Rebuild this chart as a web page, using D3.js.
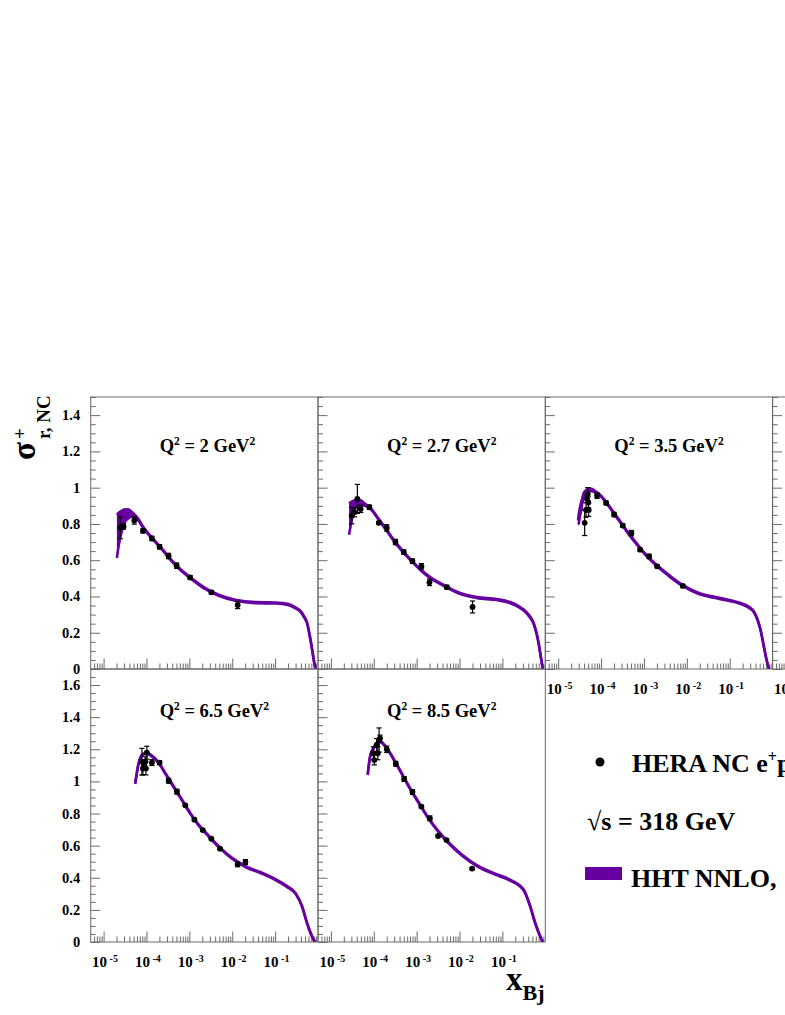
<!DOCTYPE html>
<html>
<head>
<meta charset="utf-8">
<script src="https://cdn.jsdelivr.net/npm/d3@7/dist/d3.min.js"></script>
<style>
  body { margin: 0; background: #fff; }
  svg { display: block; }
  text { font-family: "Liberation Serif", "Times New Roman", serif; font-weight: bold; fill: #000; }
</style>
</head>
<body>
<svg id="chart"></svg>
<script>
var width = 785;
var height = 1015;
var bandColor = "#66009f";
var frameColor = "#6a6a6a";

// panel titles
var q2Labels = ["2", "2.7", "3.5", "6.5", "8.5"];

// HERA NC e+p points : [x, sigma_r, error]
var heraQ2_2 = [
  [2.44e-5, 0.779, 0.060], [2.92e-5, 0.786, 0.015], [5.19e-5, 0.819, 0.020],
  [8.28e-5, 0.762, 0.012], [1.34e-4, 0.720, 0.012], [2.02e-4, 0.674, 0.012],
  [3.28e-4, 0.623, 0.015], [5.05e-4, 0.570, 0.015], [1.04e-3, 0.505, 0.010],
  [3.26e-3, 0.423, 0.010], [1.34e-2, 0.353, 0.020]
];
var heraQ2_27 = [
  [3.05e-5, 0.846, 0.045], [3.52e-5, 0.864, 0.025], [4.14e-5, 0.938, 0.080],
  [4.95e-5, 0.883, 0.020], [7.89e-5, 0.892, 0.012], [1.31e-4, 0.806, 0.008],
  [2.01e-4, 0.778, 0.018], [3.20e-4, 0.700, 0.015], [5.01e-4, 0.645, 0.012],
  [7.98e-4, 0.595, 0.012], [1.29e-3, 0.566, 0.015], [1.99e-3, 0.478, 0.018],
  [5.06e-3, 0.451, 0.010], [2.01e-2, 0.342, 0.033]
];
var heraQ2_35 = [
  [4.14e-5, 0.806, 0.070], [4.46e-5, 0.877, 0.040], [4.70e-5, 0.938, 0.020],
  [4.88e-5, 0.965, 0.035], [5.01e-5, 0.919, 0.030], [5.14e-5, 0.877, 0.035],
  [8.05e-5, 0.956, 0.015], [1.31e-4, 0.916, 0.010], [2.01e-4, 0.852, 0.012],
  [3.20e-4, 0.791, 0.010], [5.09e-4, 0.749, 0.015], [8.13e-4, 0.658, 0.008],
  [1.32e-3, 0.621, 0.012], [2.03e-3, 0.566, 0.008], [8.05e-3, 0.458, 0.006]
];
var heraQ2_65 = [
  [7.83e-5, 1.123, 0.083], [8.26e-5, 1.081, 0.040], [8.87e-5, 1.102, 0.030],
  [9.38e-5, 1.123, 0.030], [9.70e-5, 1.081, 0.040], [1.02e-4, 1.179, 0.040],
  [1.34e-4, 1.117, 0.018], [2.02e-4, 1.117, 0.012], [3.29e-4, 1.004, 0.015],
  [5.14e-4, 0.936, 0.015], [8.05e-4, 0.851, 0.008], [1.31e-3, 0.762, 0.008],
  [2.05e-3, 0.697, 0.006], [3.26e-3, 0.643, 0.006], [5.20e-3, 0.581, 0.006],
  [1.34e-2, 0.484, 0.015], [2.03e-2, 0.498, 0.015]
];
var heraQ2_85 = [
  [9.79e-5, 1.175, 0.040], [1.03e-4, 1.133, 0.030], [1.17e-4, 1.227, 0.040],
  [1.24e-4, 1.175, 0.040], [1.33e-4, 1.258, 0.075], [1.40e-4, 1.268, 0.020],
  [2.01e-4, 1.200, 0.020], [3.26e-4, 1.110, 0.015], [5.11e-4, 1.015, 0.015],
  [7.98e-4, 0.934, 0.015], [1.29e-3, 0.843, 0.008], [2.03e-3, 0.770, 0.015],
  [3.17e-3, 0.660, 0.006], [4.97e-3, 0.635, 0.006], [1.97e-2, 0.457, 0.006]
];

// HHT NNLO band : [x, low, high]
var hhtQ2_2 = [
  [2.04e-5, 0.612, 0.850], [2.23e-5, 0.675, 0.860], [2.67e-5, 0.762, 0.873],
  [3.20e-5, 0.814, 0.881], [3.82e-5, 0.832, 0.879], [4.57e-5, 0.840, 0.866],
  [5.47e-5, 0.836, 0.848], [6.55e-5, 0.818, 0.826], [7.83e-5, 0.788, 0.794],
  [1.34e-4, 0.720, 0.726], [2.30e-4, 0.658, 0.664], [3.94e-4, 0.592, 0.598],
  [6.73e-4, 0.537, 0.543], [1.15e-3, 0.493, 0.499], [2.36e-3, 0.440, 0.446],
  [4.83e-3, 0.404, 0.410], [1.18e-2, 0.376, 0.382], [3.48e-2, 0.363, 0.369],
  [0.102, 0.361, 0.367], [0.208, 0.352, 0.358], [0.299, 0.334, 0.340],
  [0.391, 0.315, 0.321], [0.468, 0.287, 0.293], [0.560, 0.248, 0.254],
  [0.646, 0.177, 0.183], [0.733, 0.101, 0.107], [0.810, 0.037, 0.043],
  [0.875, 0.0, 0.002]
];
var hhtQ2_27 = [
  [2.65e-5, 0.740, 0.914], [3.05e-5, 0.819, 0.923], [3.66e-5, 0.884, 0.931],
  [4.38e-5, 0.901, 0.933], [5.24e-5, 0.904, 0.927], [6.27e-5, 0.900, 0.911],
  [8.18e-5, 0.885, 0.891], [1.28e-4, 0.825, 0.831], [2.01e-4, 0.761, 0.767],
  [3.14e-4, 0.697, 0.703], [4.92e-4, 0.642, 0.648], [7.71e-4, 0.592, 0.598],
  [1.21e-3, 0.546, 0.552], [2.07e-3, 0.501, 0.507], [4.23e-3, 0.459, 0.465],
  [1.04e-2, 0.413, 0.419], [2.54e-2, 0.391, 0.397], [7.45e-2, 0.380, 0.386],
  [0.152, 0.363, 0.369], [0.261, 0.336, 0.342], [0.313, 0.322, 0.328],
  [0.398, 0.297, 0.303], [0.535, 0.248, 0.254], [0.700, 0.138, 0.144],
  [0.794, 0.057, 0.063], [0.871, 0.0, 0.002]
];
var hhtQ2_35 = [
  [2.90e-5, 0.797, 0.818], [3.00e-5, 0.802, 0.850], [3.28e-5, 0.855, 0.900],
  [3.47e-5, 0.880, 0.924], [3.59e-5, 0.906, 0.936], [3.93e-5, 0.943, 0.970],
  [4.15e-5, 0.952, 0.979], [4.70e-5, 0.970, 0.990], [5.14e-5, 0.976, 0.996],
  [5.62e-5, 0.980, 0.995], [6.15e-5, 0.981, 0.993], [7.36e-5, 0.972, 0.980],
  [8.81e-5, 0.962, 0.968], [1.26e-4, 0.922, 0.928], [1.80e-4, 0.871, 0.877],
  [2.82e-4, 0.807, 0.813], [4.42e-4, 0.742, 0.748], [6.92e-4, 0.684, 0.690],
  [1.08e-3, 0.629, 0.635], [1.85e-3, 0.574, 0.580], [3.79e-3, 0.513, 0.519],
  [7.78e-3, 0.459, 0.465], [1.91e-2, 0.413, 0.419], [4.67e-2, 0.391, 0.397],
  [6.11e-2, 0.385, 0.391], [0.179, 0.358, 0.364], [0.282, 0.337, 0.343],
  [0.366, 0.312, 0.318], [0.447, 0.267, 0.273], [0.525, 0.211, 0.217],
  [0.650, 0.101, 0.107], [0.741, 0.037, 0.043], [0.830, 0.0, 0.002]
];
var hhtQ2_65 = [
  [5.47e-5, 0.984, 0.990], [6.55e-5, 1.108, 1.116], [7.83e-5, 1.159, 1.167],
  [1.02e-4, 1.174, 1.181], [1.34e-4, 1.154, 1.161], [1.92e-4, 1.113, 1.119],
  [2.75e-4, 1.047, 1.053], [4.30e-4, 0.964, 0.970], [6.73e-4, 0.881, 0.887],
  [1.05e-3, 0.798, 0.804], [1.65e-3, 0.725, 0.731], [2.82e-3, 0.657, 0.663],
  [4.83e-3, 0.591, 0.597], [9.91e-3, 0.518, 0.524], [2.03e-2, 0.466, 0.472],
  [4.97e-2, 0.425, 0.431], [0.102, 0.386, 0.392], [0.191, 0.342, 0.348],
  [0.299, 0.300, 0.306], [0.427, 0.217, 0.223], [0.558, 0.113, 0.119],
  [0.731, 0.030, 0.036], [0.850, 0.0, 0.002]
];
var hhtQ2_85 = [
  [7.23e-5, 1.040, 1.046], [8.18e-5, 1.151, 1.157], [9.79e-5, 1.203, 1.209],
  [1.40e-4, 1.244, 1.250], [2.01e-4, 1.203, 1.209], [3.14e-4, 1.120, 1.126],
  [4.92e-4, 1.026, 1.032], [7.71e-4, 0.933, 0.939], [1.21e-3, 0.850, 0.856],
  [1.89e-3, 0.767, 0.773], [3.23e-3, 0.684, 0.690], [5.53e-3, 0.615, 0.621],
  [1.13e-2, 0.539, 0.545], [2.77e-2, 0.466, 0.472], [6.79e-2, 0.420, 0.426],
  [0.139, 0.387, 0.393], [0.313, 0.321, 0.327], [0.447, 0.217, 0.223],
  [0.585, 0.113, 0.119], [0.766, 0.030, 0.036], [0.871, 0.0, 0.002]
];

// axis ticks
var xMajorTicks = [1e-5, 1e-4, 1e-3, 1e-2, 1e-1];
var xMajorExps = ["-5", "-4", "-3", "-2", "-1"];
var yLabelsTop = [0, 0.2, 0.4, 0.6, 0.8, 1, 1.2, 1.4];
var yLabelsBottom = [0, 0.2, 0.4, 0.6, 0.8, 1, 1.2, 1.4, 1.6];

// pad geometry
var panelLefts = [90.7, 318, 545.3, 772.6];
var panelWidth = 227.3;
var rows = [
  {top: 397, bottom: 669, ymax: 1.5, yLabels: yLabelsTop, titleY: 452},
  {top: 669, bottom: 942, ymax: 1.7, yLabels: yLabelsBottom, titleY: 717}
];

var panels = [
  {col: 0, row: 0, q2: q2Labels[0], points: heraQ2_2,  band: hhtQ2_2,  xLabels: false},
  {col: 1, row: 0, q2: q2Labels[1], points: heraQ2_27, band: hhtQ2_27, xLabels: false},
  {col: 2, row: 0, q2: q2Labels[2], points: heraQ2_35, band: hhtQ2_35, xLabels: true},
  {col: 3, row: 0, q2: null,        points: [],        band: [],       xLabels: true},
  {col: 0, row: 1, q2: q2Labels[3], points: heraQ2_65, band: hhtQ2_65, xLabels: true},
  {col: 1, row: 1, q2: q2Labels[4], points: heraQ2_85, band: hhtQ2_85, xLabels: true}
];

var svg = d3.select("#chart")
  .attr("width", width)
  .attr("height", height);

svg.append("rect").attr("width", width).attr("height", height).attr("fill", "#fff");

panels.forEach(drawPanel);

function minorTicks(domain) {
  var ticks = [];
  for (var e = -6; e <= -1; e++) {
    for (var m = 2; m <= 9; m++) {
      var v = m * Math.pow(10, e);
      if (v > domain[0] && v < domain[1]) ticks.push(v);
    }
  }
  return ticks;
}

function drawPanel(p) {
  var row = rows[p.row];
  var x0 = panelLefts[p.col];
  var x1 = x0 + panelWidth;
  var xDomain = [5e-6, 1];

  var x = d3.scaleLog().domain(xDomain).range([x0, x1]);
  var y = d3.scaleLinear().domain([0, row.ymax]).range([row.bottom, row.top]);

  var g = svg.append("g");

  // frame
  g.append("rect")
    .attr("x", x0).attr("y", row.top)
    .attr("width", panelWidth).attr("height", row.bottom - row.top)
    .attr("fill", "none").attr("stroke", frameColor).attr("stroke-width", 1);

  // x axis ticks (pointing into the pad)
  var xMinor = minorTicks(xDomain);
  g.append("g")
    .attr("transform", "translate(0," + row.bottom + ")")
    .call(d3.axisBottom(x).tickValues(xMinor).tickSize(-5.5).tickFormat(""))
    .call(styleAxis);
  g.append("g")
    .attr("transform", "translate(0," + row.bottom + ")")
    .call(d3.axisBottom(x).tickValues(xMajorTicks).tickSize(-10.5).tickFormat(""))
    .call(styleAxis);

  // y axis ticks
  var yMinor = d3.range(0, row.ymax + 0.001, 0.05).filter(function(v) {
    return Math.abs(v / 0.2 - Math.round(v / 0.2)) > 0.01;
  });
  g.append("g")
    .attr("transform", "translate(" + x0 + ",0)")
    .call(d3.axisLeft(y).tickValues(yMinor).tickSize(-5).tickFormat(""))
    .call(styleAxis);
  g.append("g")
    .attr("transform", "translate(" + x0 + ",0)")
    .call(d3.axisLeft(y).tickValues(row.yLabels).tickSize(-9.5).tickFormat(""))
    .call(styleAxis);

  // y labels only on the first column
  if (p.col === 0) {
    g.selectAll("text.ylab")
      .data(row.yLabels)
      .enter().append("text")
      .attr("class", "ylab")
      .attr("x", x0 - 10.5)
      .attr("y", function(d) { return y(d) + 5; })
      .attr("text-anchor", "end")
      .style("font-size", "14.5px")
      .text(function(d) { return d3.format("")(+d.toFixed(1)); });
  }

  // x labels 10^n
  if (p.xLabels) {
    xMajorTicks.forEach(function(t, i) {
      var lab = g.append("text")
        .attr("x", x(t) - 11.5)
        .attr("y", row.bottom + 24.5)
        .style("font-size", "15px")
        .text("10");
      lab.append("tspan")
        .attr("dx", 2.5).attr("dy", -5)
        .style("font-size", "10px")
        .text(xMajorExps[i]);
    });
  }

  if (p.band.length) {
    var clipId = "clip" + p.col + p.row;
    g.append("clipPath").attr("id", clipId)
      .append("rect")
      .attr("x", x0).attr("y", row.top)
      .attr("width", panelWidth).attr("height", row.bottom - row.top);

    var area = d3.area()
      .x(function(d) { return x(d[0]); })
      .y0(function(d) { return y(d[1]); })
      .y1(function(d) { return y(d[2]); })
      .curve(d3.curveMonotoneX);
    var lineLo = d3.line()
      .x(function(d) { return x(d[0]); })
      .y(function(d) { return y(d[1]); })
      .curve(d3.curveMonotoneX);
    var lineHi = d3.line()
      .x(function(d) { return x(d[0]); })
      .y(function(d) { return y(d[2]); })
      .curve(d3.curveMonotoneX);

    var bg = g.append("g").attr("clip-path", "url(#" + clipId + ")");
    bg.append("path").attr("d", area(p.band)).attr("fill", bandColor);
    bg.append("path").attr("d", lineLo(p.band))
      .attr("fill", "none").attr("stroke", bandColor).attr("stroke-width", 2.6)
      .attr("stroke-linejoin", "round");
    bg.append("path").attr("d", lineHi(p.band))
      .attr("fill", "none").attr("stroke", bandColor).attr("stroke-width", 2.6)
      .attr("stroke-linejoin", "round");
  }

  // data points with error bars
  var pts = g.selectAll("g.pt")
    .data(p.points)
    .enter().append("g").attr("class", "pt");
  pts.append("line")
    .attr("x1", function(d) { return x(d[0]); })
    .attr("x2", function(d) { return x(d[0]); })
    .attr("y1", function(d) { return y(d[1] - d[2]); })
    .attr("y2", function(d) { return y(d[1] + d[2]); })
    .attr("stroke", "#000").attr("stroke-width", 1.2);
  [-1, 1].forEach(function(s) {
    pts.append("line")
      .attr("x1", function(d) { return x(d[0]) - 2.6; })
      .attr("x2", function(d) { return x(d[0]) + 2.6; })
      .attr("y1", function(d) { return y(d[1] + s * d[2]); })
      .attr("y2", function(d) { return y(d[1] + s * d[2]); })
      .attr("stroke", "#000").attr("stroke-width", 1.2);
  });
  pts.append("circle")
    .attr("cx", function(d) { return x(d[0]); })
    .attr("cy", function(d) { return y(d[1]); })
    .attr("r", 2.9)
    .attr("fill", "#000");

  // title
  if (p.q2) {
    var t = g.append("text")
      .attr("x", x0 + 69)
      .attr("y", row.titleY)
      .style("font-size", "18.5px")
      .text("Q");
    t.append("tspan").attr("dy", -7.5).style("font-size", "11.5px").text("2");
    t.append("tspan").attr("dy", 7.5).text(" = " + p.q2 + " GeV");
    t.append("tspan").attr("dy", -7.5).style("font-size", "11.5px").text("2");
  }
}

function styleAxis(sel) {
  sel.select(".domain").remove();
  sel.selectAll(".tick line").attr("stroke", frameColor).attr("stroke-width", 1);
}

// y axis title  sigma^+_{r, NC}
var yt = svg.append("g").attr("transform", "translate(35,460) rotate(-90)");
yt.append("text").attr("x", 0).attr("y", 0).style("font-size", "33px").text("σ");
yt.append("text").attr("x", 21).attr("y", -9).style("font-size", "19px").text("+");
yt.append("text").attr("x", 21).attr("y", 15).style("font-size", "19px").text("r, NC");

// x axis title  x_Bj
var xt = svg.append("text").attr("x", 506).attr("y", 990).style("font-size", "33px").text("x");
xt.append("tspan").attr("dy", 10).style("font-size", "22px").text("Bj");

// legend
svg.append("circle").attr("cx", 600).attr("cy", 762).attr("r", 4.5).attr("fill", "#000");
var l1 = svg.append("text").attr("x", 632).attr("y", 772).style("font-size", "26px").text("HERA NC e");
l1.append("tspan").attr("dy", -10).style("font-size", "16px").text("+");
l1.append("tspan").attr("dy", 10).text("p");
svg.append("text").attr("x", 587).attr("y", 830).style("font-size", "26px").text("√s = 318 GeV");
svg.append("rect").attr("x", 585).attr("y", 867).attr("width", 37).attr("height", 13).attr("fill", bandColor);
svg.append("text").attr("x", 631).attr("y", 887).style("font-size", "26px").text("HHT NNLO,");
</script>
</body>
</html>
